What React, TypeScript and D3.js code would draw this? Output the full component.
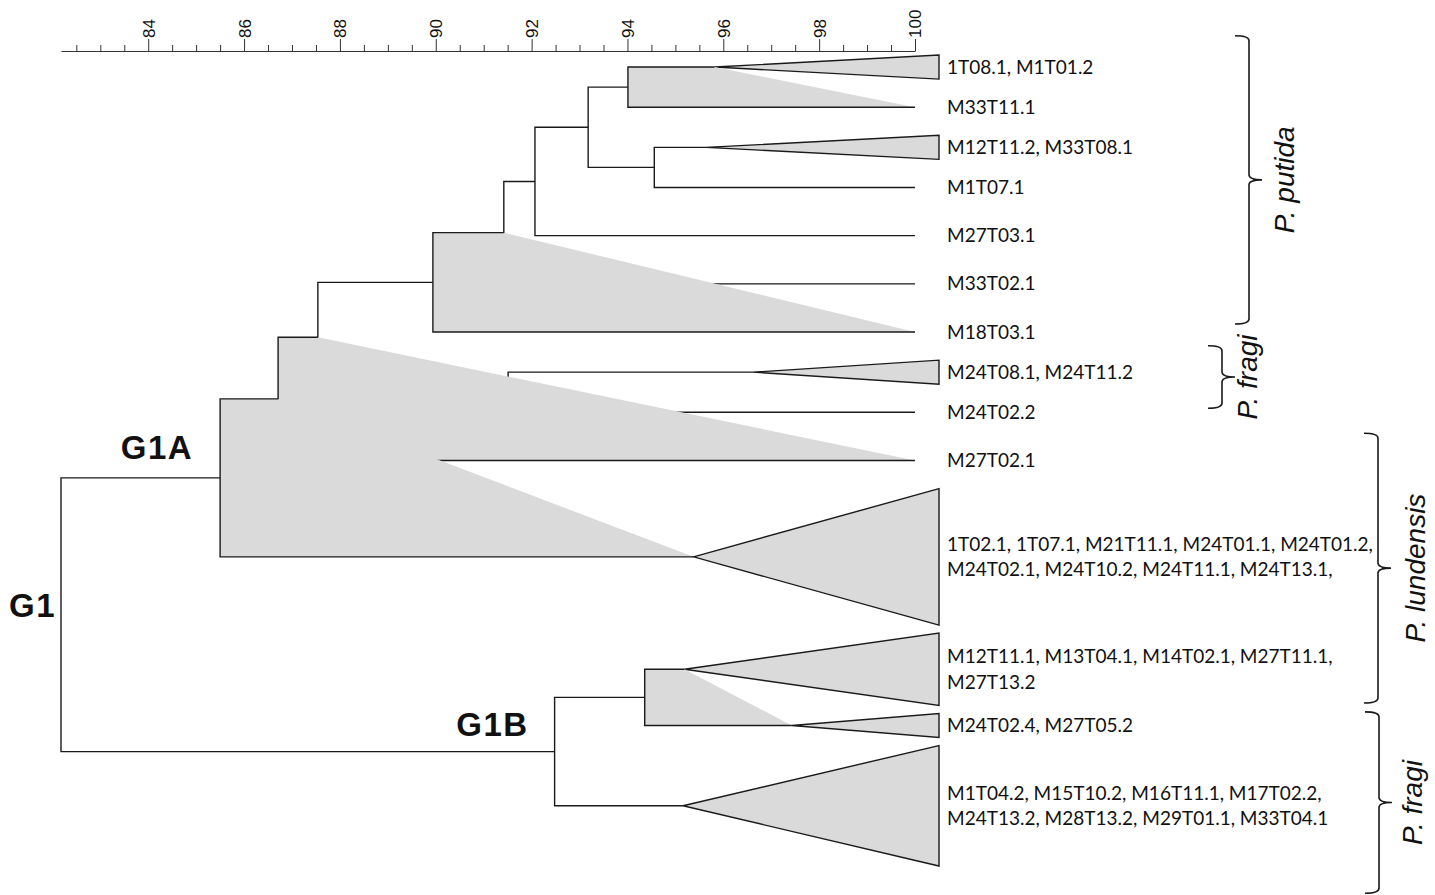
import React, { useEffect, useRef } from "react";
import * as d3 from "d3";

// terminals (single isolates or collapsed groups), top to bottom
const terminalLabels: string[][] = [
  ["1T08.1, M1T01.2"],
  ["M33T11.1"],
  ["M12T11.2, M33T08.1"],
  ["M1T07.1"],
  ["M27T03.1"],
  ["M33T02.1"],
  ["M18T03.1"],
  ["M24T08.1, M24T11.2"],
  ["M24T02.2"],
  ["M27T02.1"],
  ["1T02.1, 1T07.1, M21T11.1, M24T01.1, M24T01.2,", "M24T02.1, M24T10.2, M24T11.1, M24T13.1,"],
  ["M12T11.1, M13T04.1, M14T02.1, M27T11.1,", "M27T13.2"],
  ["M24T02.4, M27T05.2"],
  ["M1T04.2, M15T10.2, M16T11.1, M17T02.2,", "M24T13.2, M28T13.2, M29T01.1, M33T04.1"],
];
const terminalSizes = [2, 1, 2, 1, 1, 1, 1, 2, 1, 1, 9, 5, 2, 8];
const terminalSimilarity = [95.82, 100, 95.64, 100, 100, 100, 100, 96.62, 100, 100, 95.38, 95.19, 97.43, 95.16];

// internal nodes, children listed as [upper, lower]
const nodeNames = ["A", "C", "B", "D", "E", "F", "X", "G", "H", "G1A", "J", "G1B", "G1"];
const nodeSimilarity = [94.01, 94.56, 93.18, 92.07, 91.42, 89.94, 91.51, 87.54, 86.71, 85.5, 94.36, 92.48, 82.18];
const nodeChildren: [string, string][] = [
  ["t0", "t1"], ["t2", "t3"], ["A", "C"], ["B", "t4"], ["D", "t5"], ["E", "t6"],
  ["t7", "t8"], ["F", "X"], ["G", "t9"], ["H", "t10"], ["t11", "t12"], ["J", "t13"], ["G1A", "G1B"],
];
const shadedNodes = ["A", "F", "H", "G1A", "J"];
const clusterNames = ["G1", "G1A", "G1B"];

const axisMajorTicks = [84, 86, 88, 90, 92, 94, 96, 98, 100];

const speciesNames = ["P. putida", "P. fragi", "P. lundensis", "P. fragi"];
const speciesSpans: [number, number][] = [[-1.2, 16.75], [18.1, 22.0], [23.55, 40.35], [40.9, 52.2]];

const GREY = "#dadada";
const INK = "#1a1a1a";

type Item = { id: string; sim: number; y: number; top?: number; bottom?: number; labels?: string[]; kids?: [Item, Item]; n?: number };

function buildTree() {
  const items: Record<string, Item> = {};
  let cursor = 0;
  terminalSizes.forEach((n, i) => {
    const h = n === 1 ? 2.5 : n - 0.5;
    items["t" + i] = { id: "t" + i, sim: terminalSimilarity[i], y: cursor + h / 2, top: cursor, bottom: cursor + h, labels: terminalLabels[i], n };
    cursor += h + 0.5;
  });
  nodeNames.forEach((name, i) => {
    const [a, b] = nodeChildren[i];
    const ka = items[a], kb = items[b];
    items[name] = { id: name, sim: nodeSimilarity[i], y: (ka.y + kb.y) / 2, kids: [ka, kb] };
  });
  return { items, root: items[nodeNames[nodeNames.length - 1]], rows: cursor - 0.5 };
}

const { items, root, rows } = buildTree();

export default function App() {
  const axisRef = useRef<SVGGElement>(null);
  const x = d3.scaleLinear().domain([root.sim, 100]).range([61, 915]);
  const y = d3.scaleLinear().domain([0, rows]).range([55, 866]);
  const tipX = x(100) + 24;

  useEffect(() => {
    const g = d3.select(axisRef.current);
    g.selectAll("*").remove();
    const minor = d3.range(82.5, 100, 0.5).filter((v) => v % 2 !== 0);
    g.append("g")
      .call(d3.axisTop(x).tickValues(minor).tickSize(6).tickSizeOuter(0).tickFormat(() => ""))
      .call((s) => s.select(".domain").remove());
    const major = g.append("g");
    major.call(d3.axisTop(x).tickValues(axisMajorTicks).tickSize(12).tickSizeOuter(0).tickFormat(d3.format("d")));
    major.attr("font-size", 17).attr("font-family", "'Liberation Sans', Arial, sans-serif");
    major.selectAll(".domain").attr("stroke", "#333");
    g.selectAll(".tick line").attr("stroke", "#333");
    major
      .selectAll(".tick text")
      .attr("transform", "rotate(-90)")
      .attr("x", 13)
      .attr("y", 0)
      .attr("dy", "0.35em")
      .attr("text-anchor", "start")
      .attr("fill", "#111");
  }, []);

  const marks: React.ReactNode[] = [];
  const walk = (it: Item) => {
    if (!it.kids) {
      if (it.n && it.n > 1) {
        marks.push(
          <polygon
            key={"tri" + it.id}
            points={`${x(it.sim)},${y(it.y)} ${tipX},${y(it.top!)} ${tipX},${y(it.bottom!)}`}
            fill={GREY}
            stroke={INK}
            strokeWidth={1.4}
          />
        );
      }
      return;
    }
    const [up, lo] = it.kids;
    walk(up);
    walk(lo);
    const xn = x(it.sim);
    if (shadedNodes.includes(it.id)) {
      marks.push(
        <path
          key={"sh" + it.id}
          d={`M${xn},${y(up.y)} H${x(up.sim)} L${x(lo.sim)},${y(lo.y)} H${xn} Z`}
          fill={GREY}
          stroke="none"
        />
      );
    }
    marks.push(
      <path
        key={"br" + it.id}
        d={`M${x(up.sim)},${y(up.y)} H${xn} V${y(lo.y)} H${x(lo.sim)}`}
        fill="none"
        stroke={INK}
        strokeWidth={1.4}
      />
    );
  };
  walk(root);

  const terminals = terminalSizes.map((_, i) => items["t" + i]);

  const clusterLabel = (name: string) => {
    const it = items[name];
    const xn = x(it.sim);
    const yn = y(it.y);
    const pos =
      name === "G1" ? { tx: xn - 5, ty: yn + 2 } : name === "G1A" ? { tx: xn - 27, ty: yn - 19 } : { tx: xn - 26, ty: yn - 16 };
    return (
      <text
        key={"cl" + name}
        x={pos.tx}
        y={pos.ty}
        textAnchor="end"
        fontFamily="'Liberation Sans', Arial, sans-serif"
        fontWeight="bold"
        fontSize={33}
        letterSpacing={1.5}
        fill="#111"
      >
        {name}
      </text>
    );
  };

  const braceX = [1249, 1222, 1378, 1379];
  const braceLabelX = [1294, 1257, 1425, 1422];

  return (
    <svg width={1435} height={895} style={{ position: "absolute", left: 0, top: 0, background: "#fff" }}>
      <g ref={axisRef} transform="translate(0,51)" />
      {marks}
      {terminals.map((t) =>
        t.labels!.map((line, j) => (
          <text
            key={t.id + "-" + j}
            x={x(100) + 32}
            y={y(t.y) + (j - (t.labels!.length - 1) / 2) * 25.5}
            dy="0.35em"
            fontFamily="Lato, 'Open Sans', sans-serif"
            fontSize={19}
            fill="#111"
          >
            {line}
          </text>
        ))
      )}
      {clusterNames.map(clusterLabel)}
      {speciesNames.map((name, i) => {
        const [a, b] = speciesSpans[i];
        const top = y(a);
        const bot = y(b);
        const mid = (top + bot) / 2;
        const xv = braceX[i];
        const r = 5;
        const d = `M${xv - 14},${top} Q${xv},${top} ${xv},${top + r} V${mid - r} Q${xv},${mid} ${xv + 13},${mid} Q${xv},${mid} ${xv},${mid + r} V${bot - r} Q${xv},${bot} ${xv - 14},${bot}`;
        return (
          <g key={"sp" + i}>
            <path d={d} fill="none" stroke={INK} strokeWidth={1.6} />
            <text
              transform={`translate(${braceLabelX[i]},${mid}) rotate(-90)`}
              textAnchor="middle"
              fontFamily="'Liberation Sans', Arial, sans-serif"
              fontStyle="italic"
              fontSize={28}
              fill="#111"
            >
              {name}
            </text>
          </g>
        );
      })}
    </svg>
  );
}
